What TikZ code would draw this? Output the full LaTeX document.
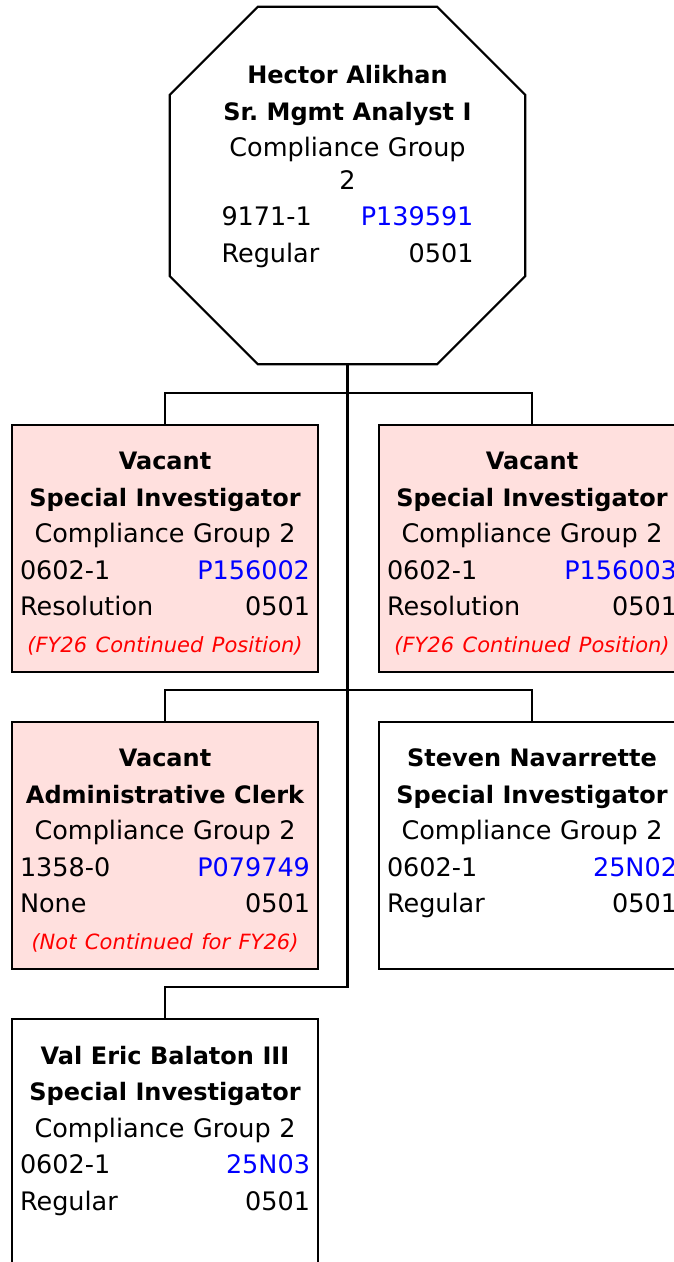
\documentclass[tikz,border=0pt]{standalone}
\usepackage{fontspec}
\setmainfont{DejaVu Sans}[BoldFeatures={WordSpace=0.6}]
\usetikzlibrary{positioning}
\definecolor{vacantpink}{RGB}{255, 224, 222}
\definecolor{idblue}{RGB}{0, 0, 255}
\newcommand{\bt}[1]{{\fontsize{24}{36.5}\selectfont\bfseries #1}}
\newcommand{\note}[1]{{\fontsize{21}{34}\selectfont\itshape\color{red}#1}}

\begin{document}
\begin{tikzpicture}[x=1pt, y=-1pt,
 card/.style={draw=black, line width=2.2pt, minimum width=306pt, minimum height=247pt, inner sep=0pt},
 cardtext/.style={anchor=north, text width=290pt, align=center, inner sep=0pt, font=\fontsize{25.5}{36.5}\selectfont},
 link/.style={draw=black, line width=2.4pt}]
 \useasboundingbox (0, 0) rectangle (674, 1262);
 % head of the group
 \node[minimum width=355pt, minimum height=357pt, inner sep=0pt] (boss) at (347.5, 185.5) {};
 \draw[line width=2.2pt] ([xshift=88pt]boss.north west) -- ([xshift=-88pt]boss.north east)
  -- ([yshift=-88pt]boss.north east) -- ([yshift=88pt]boss.south east)
  -- ([xshift=-88pt]boss.south east) -- ([xshift=88pt]boss.south west)
  -- ([yshift=88pt]boss.south west) -- ([yshift=-88pt]boss.north west) -- cycle;
 \node[cardtext, text width=252pt] (bosstext) at (347.5, 65.5) {\bt{Hector Alikhan}\\ \bt{\makebox[0pt]{Sr.\ Mgmt Analyst I}}\\ Compliance Group\\[-4pt] 2\\ 9171-1\hfill{\color{idblue}P139591}\\ Regular\hfill 0501};
 % first row
 \node[card, fill=vacantpink] (vacA) at (165, 548.5) {};
 \node[cardtext] (vacAtext) at ([yshift=-28pt]vacA.north) {\bt{Vacant}\\ \bt{Special Investigator}\\ Compliance Group 2\\ 0602-1\hfill{\color{idblue}P156002}\\ Resolution\hfill 0501\\ \note{(FY26 Continued Position)}};
 \node[card, fill=vacantpink] (vacB) at (532, 548.5) {};
 \node[cardtext] (vacBtext) at ([yshift=-28pt]vacB.north) {\bt{Vacant}\\ \bt{Special Investigator}\\ Compliance Group 2\\ 0602-1\hfill{\color{idblue}P156003}\\ Resolution\hfill 0501\\ \note{(FY26 Continued Position)}};
 % second row
 \node[card, fill=vacantpink] (clerk) at (165, 845.5) {};
 \node[cardtext] (clerktext) at ([yshift=-28pt]clerk.north) {\bt{Vacant}\\ \bt{Administrative Clerk}\\ Compliance Group 2\\ 1358-0\hfill{\color{idblue}P079749}\\ None\hfill 0501\\ \note{(Not Continued for FY26)}};
 \node[card, fill=white] (steven) at (532, 845.5) {};
 \node[cardtext] (steventext) at ([yshift=-28pt]steven.north) {\bt{Steven Navarrette}\\ \bt{Special Investigator}\\ Compliance Group 2\\ 0602-1\hfill{\color{idblue}25N02}\\ Regular\hfill 0501};
 % third row
 \node[card, fill=white] (val) at (165, 1142.5) {};
 \node[cardtext] (valtext) at ([yshift=-28pt]val.north) {\bt{Val Eric Balaton III}\\ \bt{Special Investigator}\\ Compliance Group 2\\ 0602-1\hfill{\color{idblue}25N03}\\ Regular\hfill 0501};
 % reporting lines
 \draw[link] (boss.south) |- ([yshift=31pt]val.north) -- (val.north);
 \draw[link] (vacA.north) -- ++(0, -31) -| (vacB.north);
 \draw[link] (clerk.north) -- ++(0, -31) -| (steven.north);
\end{tikzpicture}
\end{document}
